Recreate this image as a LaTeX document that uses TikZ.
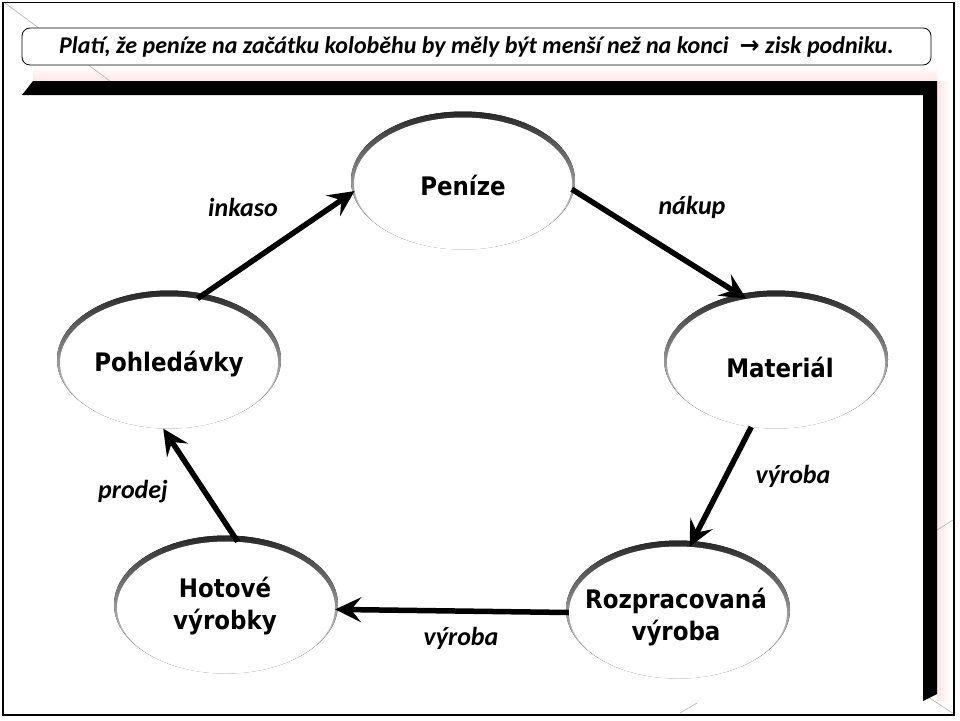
\documentclass[tikz,border=0pt]{standalone}
\usepackage{fontspec}
\setmainfont{Carlito}
\newfontfamily\nodefont{DejaVu Sans Condensed}
\newfontfamily\arrfont{DejaVu Sans}
\usetikzlibrary{arrows.meta,shapes.geometric}
\begin{document}
\begin{tikzpicture}[x=1pt,y=-1pt,
  blob/.style={ellipse, minimum width=218pt, minimum height=132pt, inner sep=0pt, fill=white},
  blobtext/.style={font=\nodefont\bfseries\fontsize{25.5}{32}\selectfont, align=center, inner sep=0pt},
  shadowfill/.style={top color=black!85, middle color=gray!40, bottom color=white},
  flow/.style={line width=5.5pt, -{Stealth[length=26pt,width=25pt,inset=10pt]}},
  lbl/.style={font=\bfseries\itshape\fontsize{26}{30}\selectfont},
  frameline/.style={gray!60, line width=0.6pt}]
\useasboundingbox (0,0) rectangle (960,720);
\fill[white] (0,0) rectangle (960,720);
% pink glow
\shade[top color=white, bottom color=red!10] (33,66) rectangle (937,81);
\shade[left color=red!10, right color=white] (937,81) rectangle (950,700);
% faint frame lines
\draw[frameline] (5,3) -- (110,81);
\draw[frameline] (928,697) -- (954,714);
\draw[frameline] (680,713) -- (697,703);
\draw[frameline] (937,530) -- (953,520);
% outer border
\draw[line width=1.2pt] (3,2.5) rectangle (954,715);
% title
\node[draw, rounded corners=8pt, fill=white, minimum width=909pt, minimum height=37pt, inner sep=0pt,
  line width=0.8pt, font=\bfseries\itshape\fontsize{24}{30}\selectfont] (title) at (476.5,46.5)
  {Platí, že peníze na začátku koloběhu by měly být menší než na konci\ \ {\arrfont\bfseries\upshape →} zisk podniku.};
% black frame
\fill[black] (33,81) -- (937,81) -- (937,694) -- (923,701) -- (923,95) -- (22,95) -- cycle;
% shadows
\fill[shadowfill] (463,180.5) ellipse (112 and 69);
\fill[shadowfill] (169,359.5) ellipse (112 and 69);
\fill[shadowfill] (776,359.5) ellipse (112 and 69);
\fill[shadowfill] (226,604.5) ellipse (112 and 69);
\fill[shadowfill] (678,609.5) ellipse (112 and 69);
% nodes
\node[blob] (Pen) at (463,183.5) {};
\node[blob] (Poh) at (169,362.5) {};
\node[blob] (Mat) at (776,362.5) {};
\node[blob] (Hot) at (226,607.5) {};
\node[blob] (Roz) at (678,612.5) {};
\node[blobtext] (PenT) at (463,185) {Peníze};
\node[blobtext] (PohT) at (169,364) {Pohledávky};
\node[blobtext] (MatT) at (780,367) {Materiál};
\node[blobtext] (HotT) at (225,606) {Hotové\\výrobky};
\node[blobtext] (RozT) at (676,617) {Rozpracovaná\\výroba};
% arrows
\draw[flow] (Poh.66) -- (Pen.184);
\draw[flow] (Pen.-3) -- (Mat.115);
\draw[flow] (Mat.249) -- (Roz.80);
\draw[flow] (Roz.180) -- (Hot.-1);
\draw[flow] (Hot.80) -- (Poh.265);
% labels
\node[lbl] (l1) at (243,207) {inkaso};
\node[lbl] (l2) at (692,207) {nákup};
\node[lbl] (l3) at (133,492) {prodej};
\node[lbl] (l4) at (793,476) {výroba};
\node[lbl] (l5) at (461,638) {výroba};
\end{tikzpicture}
\end{document}
